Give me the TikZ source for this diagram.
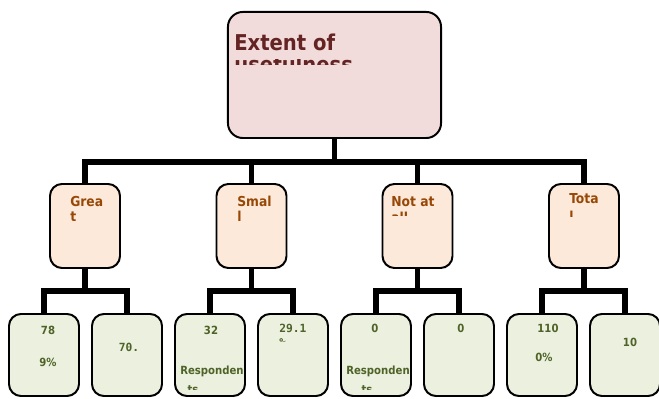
\documentclass[tikz,border=0pt]{standalone}
\usepackage{fontspec}
\setmainfont{DejaVu Sans Condensed}
\newfontfamily\numfont{DejaVu Sans Mono}
\usepackage{xcolor}
\definecolor{c1}{RGB}{242,220,219}
\definecolor{c2}{RGB}{99,36,35}
\definecolor{c3}{RGB}{253,233,217}
\definecolor{c4}{RGB}{151,72,6}
\definecolor{c5}{RGB}{235,241,222}
\definecolor{c6}{RGB}{79,98,40}

\begin{document}
\begin{tikzpicture}[
    x=0.025cm, y=-0.025cm,
    box/.style={draw=black, line width=1.4pt, rounded corners=0.3cm, inner sep=0pt},
    rootbox/.style={box, fill=c1, minimum width=5.325cm, minimum height=3.15cm, rounded corners=0.37cm},
    midbox/.style={box, fill=c3, minimum width=1.75cm, minimum height=2.1cm},
    leafbox/.style={box, fill=c5, minimum width=1.75cm, minimum height=2.05cm},
    link/.style={line width=4pt, line join=miter},
    roottext/.style={text=c2, font=\rmfamily\bfseries\fontsize{15.5}{18}\selectfont, anchor=base west, inner sep=0pt},
    midtext/.style={text=c4, font=\rmfamily\bfseries\fontsize{9.75}{12}\selectfont, anchor=base west, inner sep=0pt},
    leaftext/.style={text=c6, font=\rmfamily\bfseries\fontsize{8}{10}\selectfont, anchor=base, inner sep=0pt},
    numtext/.style={leaftext, font=\numfont\bfseries\fontsize{8}{10}\selectfont}
]
\useasboundingbox (0,0) rectangle (659,399);

\node[rootbox] (root) at (334.5,75) {};
\node[midbox] (great) at (85,226) {};
\node[midbox] (small) at (251.5,226) {};
\node[midbox] (notall) at (417.5,226) {};
\node[midbox] (total) at (584,226) {};
\foreach \i in {1,...,8}
    \node[leafbox] (l\i) at ({-39+83*\i},355) {};

\foreach \n in {great,small,notall,total}
    \draw[link] (root.south) -- ++(0,23) -| (\n.north);
\foreach \m/\a/\b in {great/l1/l2, small/l3/l4, notall/l5/l6, total/l7/l8}
    \draw[link] (\m.south) -- ++(0,22) -| (\a.north)
                (\m.south) -- ++(0,22) -| (\b.north);

\node[roottext] (roottop) at (234,51) {Extent of};
\begin{scope}
    \clip (228,59.5) rectangle (441,64.5);
    \node[roottext] (rootbottom) at (234,72.5) {usefulness};
\end{scope}

\node[midtext] (greattop) at (70,207) {Grea};
\node[midtext] (greatbottom) at (70,222) {t};
\node[midtext] (smalltop) at (237,207) {Smal};
\node[midtext] (smallbottom) at (237,222) {l};
\node[midtext] (notalltop) at (391,207) {Not at};
\begin{scope}
    \clip (383,200) rectangle (452,216);
    \node[midtext] (notallbottom) at (391,223) {all};
\end{scope}
\node[midtext] (totaltop) at (569,204) {Tota};
\begin{scope}
    \clip (549,200) rectangle (619,217);
    \node[midtext] (totalbottom) at (569,222) {l};
\end{scope}

\node[leaftext] (greatn) at (48,335) {78};
\node[leaftext] (greatp) at (48,367) {9\%};
\node[numtext] (greatq) at (129,352) {70.};
\node[leaftext] (smalln) at (211,335) {32};
\node[leaftext] (smallr) at (212,375) {Responden};
\begin{scope}
    \clip (175,380) rectangle (245,390);
    \node[leaftext] (smallt) at (193,393.5) {ts};
\end{scope}
\node[numtext, anchor=base west] (smallp) at (279,333) {29.1};
\begin{scope}
    \clip (259,336) rectangle (327,342);
    \node[numtext, anchor=base west] (smallq) at (279,347) {\%};
\end{scope}
\node[leaftext] (notalln) at (375,333) {0};
\node[leaftext] (notallr) at (378,375) {Responden};
\begin{scope}
    \clip (341,380) rectangle (411,390);
    \node[leaftext] (notallt) at (367,393.5) {ts};
\end{scope}
\node[leaftext] (notallp) at (461,333) {0};
\node[leaftext] (totaln) at (548,333) {110};
\node[leaftext] (totalp) at (544,362) {0\%};
\node[leaftext] (totalq) at (630,347) {10};
\end{tikzpicture}
\end{document}
